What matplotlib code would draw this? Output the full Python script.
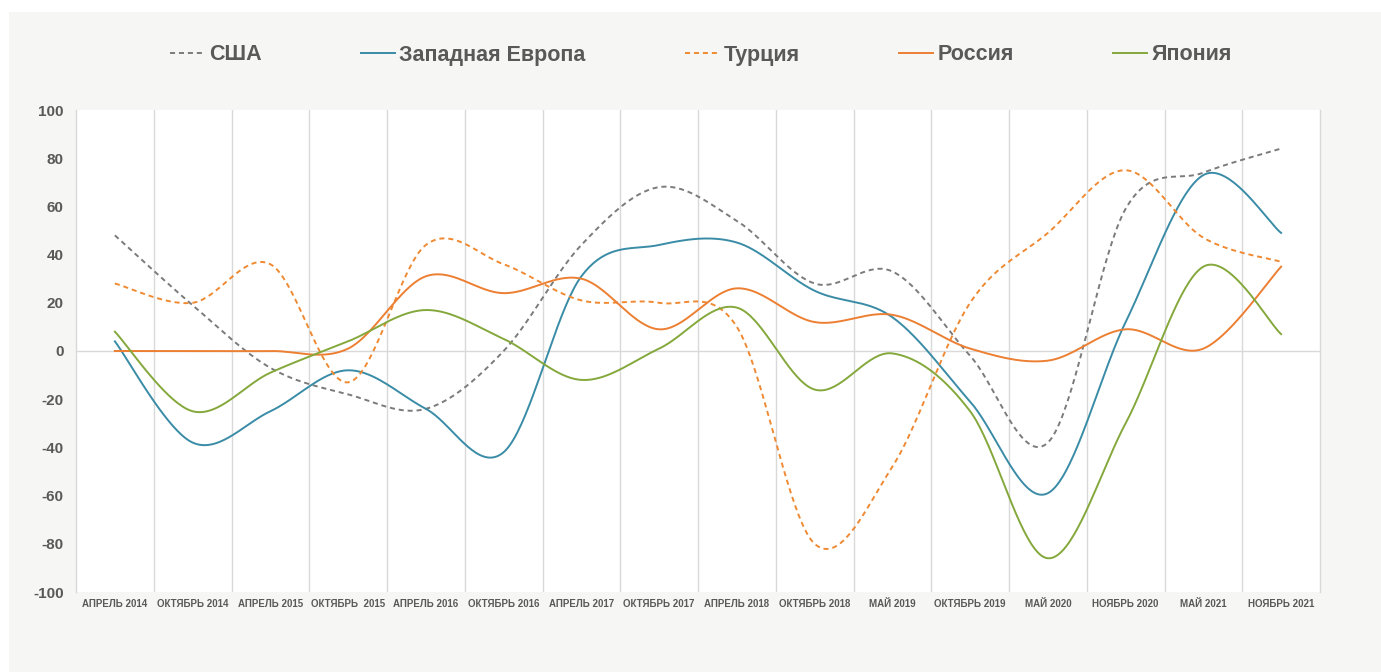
import numpy as np
import matplotlib.pyplot as plt
from matplotlib.patches import Rectangle

plt.rcParams['font.family'] = ['Liberation Sans', 'DejaVu Sans']

months = ['АПРЕЛЬ 2014', 'ОКТЯБРЬ 2014', 'АПРЕЛЬ 2015', 'ОКТЯБРЬ  2015',
          'АПРЕЛЬ 2016', 'ОКТЯБРЬ 2016', 'АПРЕЛЬ 2017', 'ОКТЯБРЬ 2017',
          'АПРЕЛЬ 2018', 'ОКТЯБРЬ 2018', 'МАЙ 2019', 'ОКТЯБРЬ 2019',
          'МАЙ 2020', 'НОЯБРЬ 2020', 'МАЙ 2021', 'НОЯБРЬ 2021']

usa = [48, 19, -7, -18, -24, 0, 44, 68, 54, 28, 33, -2, -38, 59, 74, 84]
west_europe = [4, -38, -25, -8, -24, -42, 31, 44, 45, 25, 14, -21, -59, 12, 73, 49]
turkey = [28, 20, 36, -13, 44, 36, 21, 20, 10, -80, -48, 20, 49, 75, 47, 37]
russia = [0, 0, 0, 1, 31, 24, 30, 9, 26, 12, 15, 1, -4, 9, 1, 35]
japan = [8, -25, -9, 4, 17, 5, -12, 1, 18, -16, -1, -25, -86, -30, 35, 7]

yticks = list(range(-100, 101, 20))


def smooth(x, y, n=40):
    # excel-like smoothed line: bezier segments, control points at 1/6
    pts = np.column_stack([x, y]).astype(float)
    k = len(pts)
    t = np.linspace(0, 1, n)[:, None]
    out = []
    for i in range(k - 1):
        p0 = pts[max(i - 1, 0)]
        p1 = pts[i]
        p2 = pts[i + 1]
        p3 = pts[min(i + 2, k - 1)]
        c1 = p1 + (p2 - p0) / 6
        c2 = p2 - (p3 - p1) / 6
        seg = ((1 - t) ** 3) * p1 + 3 * ((1 - t) ** 2) * t * c1 + 3 * (1 - t) * t ** 2 * c2 + t ** 3 * p2
        out.append(seg if i == 0 else seg[1:])
    out = np.vstack(out)
    return out[:, 0], out[:, 1]


fig = plt.figure(figsize=(13.81, 6.72), dpi=100, facecolor='white')
fig.patches.append(Rectangle((9 / 1381, 0), 1, 1 - 12 / 672, transform=fig.transFigure,
                             facecolor='#f6f6f4', edgecolor='none', zorder=-10))
ax = fig.add_axes([76 / 1381, 80 / 672, 1244 / 1381, 482 / 672])
ax.set_facecolor('white')

x = np.arange(len(months))
series = [
    ('США', usa, '#7b7b7b', (0, (2.6, 2.0))),
    ('Западная Европа', west_europe, '#3a8ca6', '-'),
    ('Турция', turkey, '#ef8a33', (0, (2.6, 2.0))),
    ('Россия', russia, '#ec7f32', '-'),
    ('Япония', japan, '#84a83b', '-'),
]
for name, vals, col, ls in series:
    sx, sy = smooth(x, vals)
    ax.plot(sx, sy, color=col, lw=1.4, linestyle=ls, label=name)

ax.set_xlim(-0.5, len(months) - 0.5)
ax.set_ylim(-100, 100)
ax.axhline(0, color='#d9d9d9', lw=1, zorder=0)
ax.set_xticks(x)
ax.set_xticklabels(months, fontsize=7, fontweight='bold', color='#595959')
ax.set_xticks(np.arange(0.5, len(months) - 1, 1), minor=True)
ax.grid(which='minor', axis='x', color='#d9d9d9', lw=1)
ax.set_yticks(yticks)
ax.set_yticklabels([str(v) for v in yticks], fontsize=11, fontweight='bold', color='#595959')
ax.tick_params(which='both', length=0)
ax.tick_params(axis='x', pad=5)
ax.tick_params(axis='y', pad=9)
for side in ['top', 'bottom']:
    ax.spines[side].set_visible(False)
for side in ['left', 'right']:
    ax.spines[side].set_color('#d9d9d9')
    ax.spines[side].set_linewidth(1)

leg = fig.legend(loc='center', bbox_to_anchor=(701 / 1381, 1 - 55 / 672), ncol=5,
                 frameon=False, handlelength=1.6, handletextpad=0.2, columnspacing=4.6,
                 prop={'size': 15.5, 'weight': 'bold'})
for t in leg.get_texts():
    t.set_color('#595959')

fig.savefig('out.png', dpi=100, facecolor=fig.get_facecolor())
